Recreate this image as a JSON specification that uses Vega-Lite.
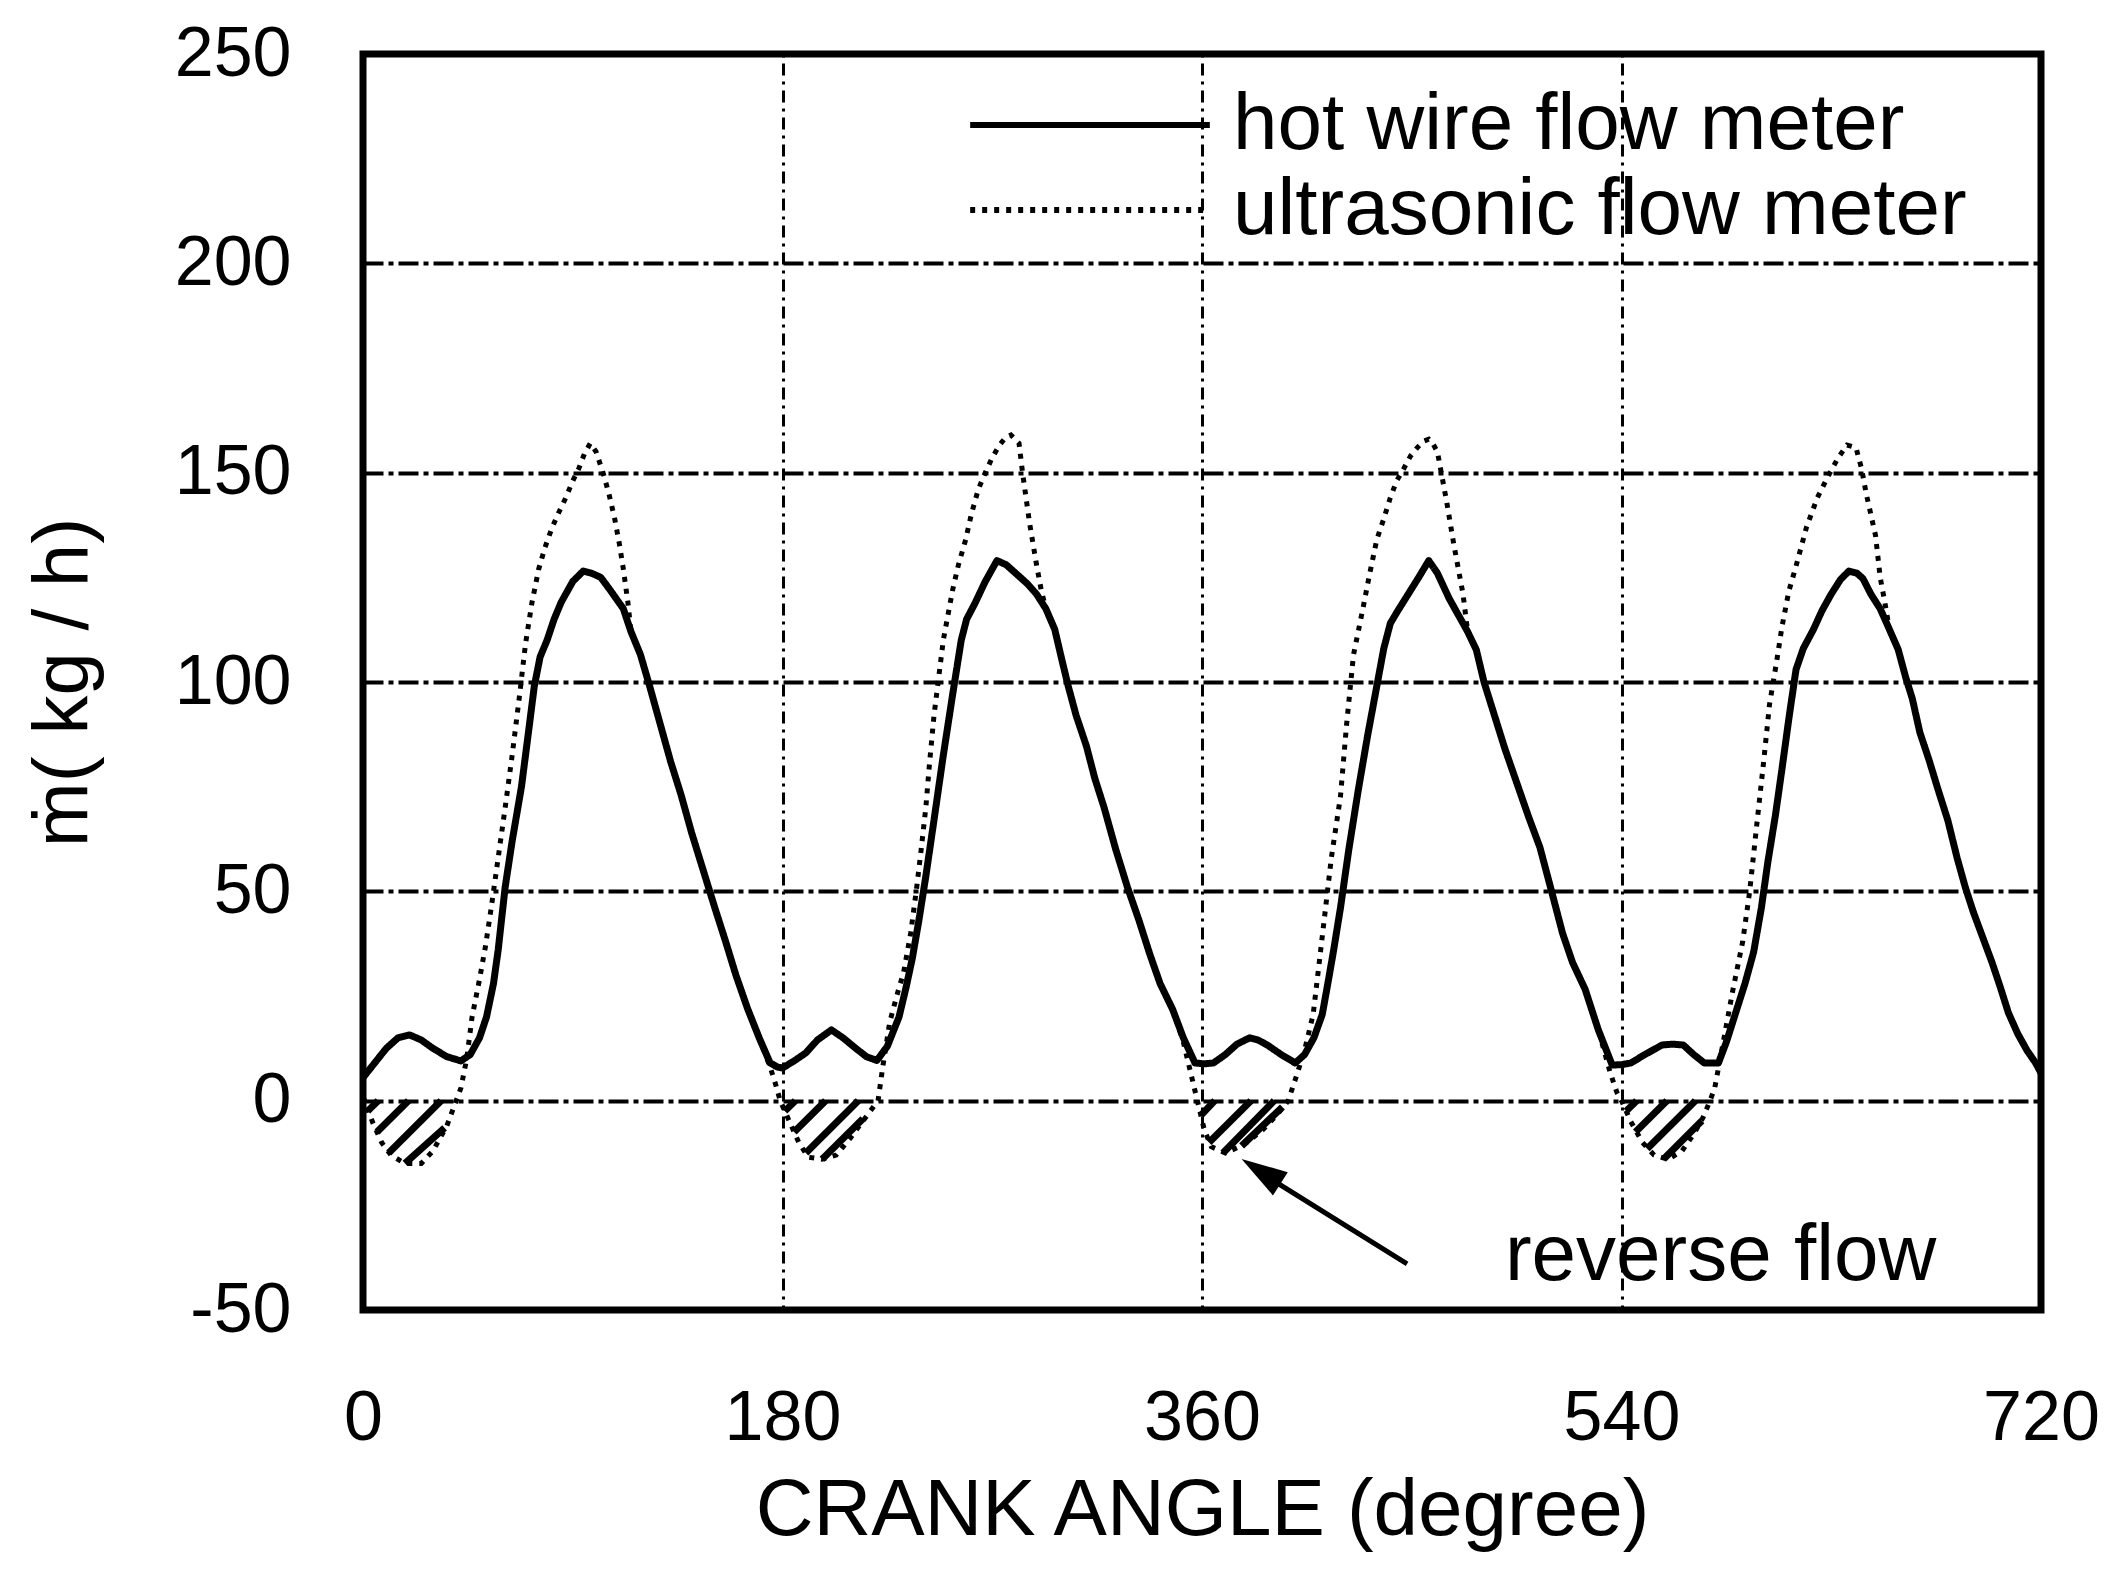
{
  "$schema": "https://vega.github.io/schema/vega-lite/v6.json",
  "autosize": {"type": "none"},
  "padding": {"left": 363, "top": 54, "right": 84, "bottom": 261},
  "width": 1678,
  "height": 1256,
  "background": "white",
  "datasets": {
    "hot": [
      {"a":0,"f":5.5},{"a":5,"f":9},{"a":10,"f":12.5},{"a":15,"f":15},{"a":20,"f":15.7},{"a":25,"f":14.5},{"a":30,"f":12.5},{"a":36,"f":10.5},{"a":42,"f":9.5},{"a":46,"f":11},{"a":50,"f":15},{"a":53,"f":20},{"a":56,"f":28},{"a":58,"f":36},{"a":61,"f":51},{"a":64,"f":62},{"a":68,"f":75},{"a":71,"f":88},{"a":73.5,"f":99},{"a":76,"f":106},{"a":79,"f":110},{"a":82,"f":115},{"a":85,"f":119},{"a":90,"f":124},{"a":94.5,"f":126.5},{"a":98,"f":126},{"a":102,"f":125},{"a":106,"f":122},{"a":111.7,"f":117.5},{"a":115,"f":112},{"a":119,"f":106.6},{"a":123,"f":99},{"a":127,"f":91},{"a":132,"f":81},{"a":136.5,"f":73},{"a":141,"f":64},{"a":146,"f":55},{"a":151,"f":46},{"a":155.6,"f":38},{"a":160,"f":30},{"a":165,"f":22},{"a":170,"f":15},{"a":174.7,"f":9},{"a":178,"f":8},{"a":180,"f":7.8},
      {"a":185,"f":9.5},{"a":190,"f":11.4},{"a":195,"f":14.5},{"a":201,"f":16.9},{"a":206,"f":15},{"a":211,"f":12.7},{"a":216,"f":10.5},{"a":220.5,"f":9.6},{"a":225,"f":13},{"a":230,"f":20},{"a":233,"f":27},{"a":235.7,"f":34},{"a":238.5,"f":43},{"a":241.5,"f":53.6},{"a":245,"f":67},{"a":249,"f":82.5},{"a":253,"f":97},{"a":256.7,"f":110},{"a":259,"f":115},{"a":262.5,"f":118.7},{"a":267,"f":124},{"a":272,"f":129},{"a":276,"f":128},{"a":280,"f":126},{"a":285,"f":123.5},{"a":289,"f":121},{"a":293,"f":117.5},{"a":296.8,"f":112.6},{"a":300,"f":105},{"a":302.6,"f":99},{"a":306,"f":92},{"a":310.4,"f":84.7},{"a":314,"f":77},{"a":318,"f":70},{"a":323,"f":60},{"a":328,"f":51},{"a":333,"f":43},{"a":337.6,"f":35},{"a":342,"f":28},{"a":347.4,"f":21.8},{"a":352,"f":15},{"a":357,"f":9},{"a":361,"f":8.8},
      {"a":364.9,"f":9},{"a":370,"f":11},{"a":375,"f":13.5},{"a":380.4,"f":15},{"a":384,"f":14.5},{"a":388,"f":13.3},{"a":394,"f":11},{"a":400,"f":9},{"a":404,"f":11},{"a":408,"f":15},{"a":411.6,"f":20.6},{"a":414,"f":28},{"a":416.5,"f":36},{"a":419.4,"f":46},{"a":423,"f":60},{"a":427,"f":74},{"a":431,"f":87},{"a":435,"f":99},{"a":438,"f":108},{"a":440.8,"f":114},{"a":444,"f":117},{"a":448.5,"f":121},{"a":453,"f":125},{"a":457.3,"f":129},{"a":461,"f":126},{"a":466,"f":120},{"a":470,"f":116},{"a":474,"f":112},{"a":477.7,"f":107.7},{"a":481,"f":100},{"a":485.5,"f":92},{"a":490,"f":84},{"a":495,"f":76},{"a":500,"f":68},{"a":505,"f":60.5},{"a":510,"f":50},{"a":514.7,"f":40},{"a":519,"f":33},{"a":524.4,"f":26.6},{"a":530,"f":17},{"a":536,"f":8.5},{"a":540,"f":8.6},
      {"a":544,"f":9},{"a":550,"f":11},{"a":557.4,"f":13.3},{"a":562,"f":13.5},{"a":566.5,"f":13.3},{"a":571,"f":11},{"a":575.5,"f":9},{"a":581.6,"f":9},{"a":585,"f":14},{"a":589,"f":21},{"a":593,"f":28},{"a":596.7,"f":35.5},{"a":600,"f":46},{"a":602.8,"f":57},{"a":606,"f":68},{"a":608.8,"f":79},{"a":612,"f":92},{"a":614.9,"f":103},{"a":618,"f":108},{"a":622.4,"f":112.6},{"a":626,"f":117},{"a":630,"f":121},{"a":634,"f":124.5},{"a":637.6,"f":126.5},{"a":641,"f":126},{"a":643.6,"f":124.7},{"a":647,"f":121},{"a":651,"f":117.5},{"a":655,"f":112.5},{"a":658.7,"f":107.8},{"a":662,"f":101},{"a":664.8,"f":96},{"a":668,"f":88},{"a":672,"f":81.3},{"a":676,"f":74},{"a":680,"f":67},{"a":684,"f":58},{"a":687.5,"f":51},{"a":691,"f":45},{"a":695,"f":39},{"a":699,"f":33},{"a":702.6,"f":27},{"a":706,"f":21},{"a":710,"f":16},{"a":714,"f":12},{"a":717.7,"f":9},{"a":720,"f":6.6}
    ],
    "ultra": [
      {"a":0,"f":1},{"a":4,"f":-5},{"a":8,"f":-10},{"a":12,"f":-13},{"a":18,"f":-15},{"a":25,"f":-15},{"a":30,"f":-12},{"a":36,"f":-6},{"a":40,"f":0},{"a":42,"f":3},{"a":44.5,"f":10},{"a":46.8,"f":20},{"a":50,"f":29},{"a":52.5,"f":36.7},{"a":55,"f":46},{"a":58,"f":58},{"a":61,"f":70},{"a":64,"f":82.5},{"a":67,"f":96},{"a":69.7,"f":109},{"a":72.5,"f":119},{"a":75.4,"f":127},{"a":78,"f":132},{"a":81,"f":136.7},{"a":84,"f":140.5},{"a":87,"f":144},{"a":90,"f":148},{"a":92.6,"f":151},{"a":95,"f":154.5},{"a":97.5,"f":157},{"a":100,"f":155},{"a":103,"f":150},{"a":105.5,"f":145},{"a":108,"f":139},{"a":110,"f":133},{"a":111.7,"f":127},{"a":113.6,"f":119.3},{"a":115,"f":112},{"a":119,"f":106.6},{"a":123,"f":99},{"a":127,"f":91},{"a":132,"f":81},{"a":136.5,"f":73},{"a":141,"f":64},{"a":146,"f":55},{"a":151,"f":46},{"a":155.6,"f":38},{"a":160,"f":30},{"a":165,"f":22},{"a":170,"f":15},{"a":174.7,"f":8},{"a":177,"f":4},{"a":179,"f":0},
      {"a":183,"f":-5},{"a":187,"f":-10},{"a":191,"f":-13.5},{"a":197,"f":-14},{"a":203,"f":-13},{"a":209,"f":-9},{"a":215,"f":-4.5},{"a":221,"f":0},{"a":223,"f":8},{"a":226,"f":18.7},{"a":229,"f":25},{"a":232,"f":30.7},{"a":235,"f":40},{"a":237.6,"f":51},{"a":239.5,"f":60},{"a":241.5,"f":70},{"a":243,"f":80},{"a":245,"f":92},{"a":247,"f":101},{"a":249,"f":110},{"a":251,"f":116},{"a":253,"f":122},{"a":255.5,"f":128},{"a":258.6,"f":134},{"a":261,"f":140},{"a":264,"f":146},{"a":267,"f":150},{"a":270,"f":153.6},{"a":273,"f":156.5},{"a":275.7,"f":158.4},{"a":278,"f":159},{"a":281.5,"f":157},{"a":283,"f":150},{"a":286,"f":138},{"a":289,"f":128},{"a":291,"f":122},{"a":293,"f":117.5},{"a":296.8,"f":112.6},{"a":300,"f":105},{"a":302.6,"f":99},{"a":306,"f":92},{"a":310.4,"f":84.7},{"a":314,"f":77},{"a":318,"f":70},{"a":323,"f":60},{"a":328,"f":51},{"a":333,"f":43},{"a":337.6,"f":35},{"a":342,"f":28},{"a":347.4,"f":21.8},{"a":352,"f":14},{"a":355,"f":7},{"a":358,"f":0},
      {"a":361,"f":-7},{"a":364,"f":-11},{"a":370,"f":-12.5},{"a":378,"f":-10.5},{"a":386,"f":-7},{"a":392,"f":-3.5},{"a":397,"f":0},{"a":400,"f":5},{"a":404,"f":12},{"a":407.7,"f":20.6},{"a":411.5,"f":38.7},{"a":415.5,"f":58},{"a":419.4,"f":72.6},{"a":422,"f":89.6},{"a":425,"f":106.5},{"a":429,"f":117.4},{"a":432,"f":126},{"a":435,"f":134},{"a":438,"f":139},{"a":440.8,"f":144},{"a":443.5,"f":148},{"a":446.6,"f":151},{"a":449.5,"f":154},{"a":452.4,"f":156},{"a":455,"f":157.5},{"a":457.3,"f":158},{"a":459,"f":157},{"a":461,"f":155},{"a":463,"f":149},{"a":465,"f":143},{"a":468,"f":133},{"a":470,"f":127},{"a":472,"f":121},{"a":474,"f":112},{"a":477.7,"f":107.7},{"a":481,"f":100},{"a":485.5,"f":92},{"a":490,"f":84},{"a":495,"f":76},{"a":500,"f":68},{"a":505,"f":60.5},{"a":510,"f":50},{"a":514.7,"f":40},{"a":519,"f":33},{"a":524.4,"f":26.6},{"a":530,"f":17},{"a":535,"f":7},{"a":538,"f":2},{"a":540,"f":0},
      {"a":544,"f":-5},{"a":549,"f":-10},{"a":554,"f":-13},{"a":560,"f":-14},{"a":566,"f":-12},{"a":571,"f":-8},{"a":575,"f":-4},{"a":578,"f":0},{"a":580,"f":3},{"a":584,"f":15},{"a":587.6,"f":25.9},{"a":592,"f":38},{"a":595,"f":50},{"a":598,"f":65.7},{"a":601,"f":81},{"a":603.5,"f":94.6},{"a":606.6,"f":105},{"a":608.8,"f":113},{"a":611.8,"f":121.7},{"a":614.9,"f":127.7},{"a":619.4,"f":137},{"a":624,"f":144},{"a":628.5,"f":149},{"a":633,"f":153.6},{"a":636.8,"f":156.6},{"a":640.6,"f":156},{"a":643,"f":151},{"a":645,"f":145},{"a":647,"f":140},{"a":649,"f":135},{"a":651,"f":125},{"a":653,"f":119},{"a":655,"f":112.5},{"a":658.7,"f":107.8},{"a":662,"f":101},{"a":664.8,"f":96},{"a":668,"f":88},{"a":672,"f":81.3},{"a":676,"f":74},{"a":680,"f":67},{"a":684,"f":58},{"a":687.5,"f":51},{"a":691,"f":45},{"a":695,"f":39},{"a":699,"f":33},{"a":702.6,"f":27},{"a":706,"f":21},{"a":710,"f":16},{"a":714,"f":12},{"a":717.7,"f":9},{"a":720,"f":6.6}
    ],
    "hatch": [
      {"a":2,"f":-2.5,"a2":6.5,"f2":0},{"a":6,"f":-7.5,"a2":19.5,"f2":0},{"a":11,"f":-12.5,"a2":33.5,"f2":0},{"a":18,"f":-15,"a2":35,"f2":-6.5},
      {"a":181,"f":-2.5,"a2":185.5,"f2":0},{"a":185,"f":-7.5,"a2":198.5,"f2":0},{"a":190,"f":-12.5,"a2":212.5,"f2":0},{"a":197,"f":-14,"a2":214.5,"f2":-4.3},
      {"a":359.5,"f":-3.5,"a2":365.5,"f2":0},{"a":363,"f":-10,"a2":381,"f2":0},{"a":369,"f":-12.5,"a2":391,"f2":0},{"a":377,"f":-10.8,"a2":394.5,"f2":-1.5},
      {"a":542,"f":-2.5,"a2":546.5,"f2":0},{"a":546,"f":-7.5,"a2":559.5,"f2":0},{"a":551,"f":-11.5,"a2":571.7,"f2":0},{"a":558,"f":-14,"a2":574.5,"f2":-4.8}
    ],
    "arrow": [{"a":448,"f":-39,"a2":386,"f2":-17.5}],
    "head": [{"a":385.3,"f":-16.9}],
    "note": [{"a":490,"f":-42.9,"label":"reverse flow"}]
  },
  "encoding": {
    "x": {"field": "a", "type": "quantitative", "scale": {"domain": [0, 720], "nice": false, "zero": false},
      "axis": {"values": [0, 180, 360, 540, 720], "title": "CRANK ANGLE (degree)", "labelFont": "Liberation Sans", "labelFontSize": 70, "labelColor": "black", "labelPadding": 74, "labelFlush": false, "ticks": false, "domain": false, "grid": true, "gridColor": "black", "gridOpacity": 1, "gridWidth": 3, "gridDash": [3, 6, 12, 6], "titleFont": "Liberation Sans", "titleFontSize": 80, "titleFontWeight": "normal", "titleColor": "black", "titlePadding": 18}},
    "y": {"field": "f", "type": "quantitative", "scale": {"domain": [-50, 250], "nice": false, "zero": false},
      "axis": {"values": [-50, 0, 50, 100, 150, 200, 250], "labelExpr": "datum.value + ''", "title": "ṁ( kg / h)", "labelFont": "Liberation Sans", "labelFontSize": 70, "labelColor": "black", "labelPadding": 72, "ticks": false, "domain": false, "grid": true, "gridColor": "black", "gridOpacity": 1, "gridWidth": 4, "gridDash": [20, 5, 5, 5], "titleFont": "Liberation Sans", "titleFontSize": 78, "titleFontWeight": "normal", "titleColor": "black", "titlePadding": 71}}
  },
  "layer": [
    {
      "data": {"name": "hatch"},
      "mark": {"type": "rule", "color": "black", "strokeWidth": 7},
      "encoding": {"x2": {"field": "a2"}, "y2": {"field": "f2"}}
    },
    {
      "data": {"name": "hot"},
      "transform": [{"calculate": "'hot wire flow meter'", "as": "s"}],
      "mark": {"type": "line", "color": "black", "strokeWidth": 7, "strokeJoin": "round"},
      "encoding": {
        "strokeDash": {"field": "s", "type": "nominal", "scale": {"domain": ["hot wire flow meter", "ultrasonic flow meter"], "range": [[1, 0], [5, 7]]},
          "legend": {"title": null, "orient": "none", "legendX": 687, "legendY": 31, "direction": "vertical", "padding": 0, "symbolType": "M-5.35,0H5.35", "symbolSize": 2007, "symbolStrokeWidth": 6, "symbolStrokeColor": "black", "symbolFillColor": "transparent", "labelFont": "Liberation Sans", "labelFontSize": 80, "labelColor": "black", "labelOffset": 103, "rowPadding": 5, "labelLimit": 1200}}
      }
    },
    {
      "data": {"name": "ultra"},
      "transform": [{"calculate": "'ultrasonic flow meter'", "as": "s"}],
      "mark": {"type": "line", "color": "black", "strokeWidth": 5},
      "encoding": {"strokeDash": {"field": "s", "type": "nominal"}}
    },
    {
      "data": {"name": "arrow"},
      "mark": {"type": "rule", "color": "black", "strokeWidth": 5},
      "encoding": {"x2": {"field": "a2"}, "y2": {"field": "f2"}}
    },
    {
      "data": {"name": "head"},
      "mark": {"type": "point", "shape": "M0,-1L0.6,1L-0.6,1Z", "filled": true, "color": "black", "opacity": 1, "size": 2116, "angle": 302.5}
    },
    {
      "data": {"name": "note"},
      "mark": {"type": "text", "align": "left", "baseline": "alphabetic", "font": "Liberation Sans", "fontSize": 80, "color": "black"},
      "encoding": {"text": {"field": "label"}}
    }
  ],
  "config": {"view": {"stroke": "black", "strokeWidth": 7}}
}
